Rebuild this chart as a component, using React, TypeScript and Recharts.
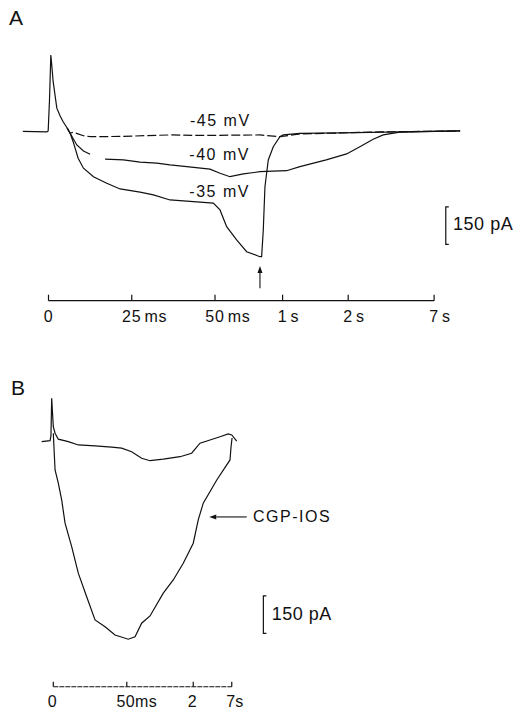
import React from "react";
import {
  LineChart,
  Line,
  XAxis,
  YAxis,
  ReferenceLine,
  ReferenceDot,
} from "recharts";

const INK = "#111";
const FONT = '"Liberation Sans", Arial, Helvetica, sans-serif';

// Panel A: x in units of the broken time axis (0 .. 7 s), y in pA
const ticksA = [0, 25, 50, 70.3, 90, 115.8];
const tickNumA = ["0", "25", "50", "1", "2", "7"];
const tickUnitA = ["", "ms", "ms", "s", "s", "s"];

const spikeA = [
  [-7.7, 0], [-0.5, -2], [-0.1, 2], [0.3, 126], [0.7, 306], [0.9, 278],
  [1.4, 199], [2.5, 93], [3.5, 62], [4.4, 39], [5.6, 14],
];

const minus45 = [
  [5.6, 14], [6.5, -7], [7.4, -3], [10.5, -17], [12.5, -21], [21.5, -20],
  [36.5, -14], [45.5, -16], [63.5, -14], [69.5, -21], [75.5, -10],
  [87.5, -6], [99.5, -2], [111.5, 0], [123.6, 2],
];

const minus40 = [
  [5.6, 14], [6.5, -7], [8.5, -54], [10.5, -78], [12.5, -91], [14.5, null],
  [17, -111], [22.5, -114], [27.5, -123], [32.5, -127], [36.5, -134],
  [41.5, -141], [48.5, -151], [51.5, -167], [54.5, -181], [58.5, -170],
  [63.5, -161], [71.5, -157], [75.5, -141], [83.4, -114], [89.5, -90],
  [93.5, -61], [97.5, -31], [100.5, -14], [105.5, -3], [123.6, 2],
];

const minus35 = [
  [6.5, -7], [7.4, -41], [8.9, -107], [10.5, -147], [13.5, -181],
  [17.5, -207], [21.5, -230], [27.5, -243], [31.5, -254], [36.5, -274],
  [43.5, -281], [49.5, -287], [51.5, -314], [53.5, -381], [56.5, -434],
  [59.5, -481], [63.5, -501], [64, -501], [64.5, -394], [65, -221],
  [66, -114], [67.5, -61], [69.5, -21], [70.5, -14], [75.5, -8],
  [87.5, -6], [105.5, -2], [123.6, 2],
];

// Panel B
const ticksB = [0, 50, 95.2, 121.4];
const tickNumB = ["0", "50", "2", "7"];
const tickUnitB = ["", "ms", "", "s"];

const controlB = [
  [-7.9, 0], [-2.2, 4], [-1.6, 23], [-1.1, 174], [0, 60], [1.2, 34],
  [3.4, 10], [10.2, 0], [17, -13], [28.4, -17], [39.7, -22], [46.5, -26],
  [53.3, -40], [60.1, -66], [65.8, -76], [74.8, -70], [86.2, -60],
  [94.1, -46], [99.8, -6], [106.6, 7], [113.4, 20], [119, 31],
  [121.4, 27], [124.8, 2],
];

const cgpB = [
  [0, 34], [1.2, -113], [3.4, -166], [5.7, -233], [8, -326], [12.5, -420],
  [17, -526], [22.7, -620], [28.4, -713], [35.2, -740], [42, -773],
  [51, -790], [55.6, -780], [60.1, -726], [65.8, -697], [74.8, -606],
  [81.6, -553], [88.4, -486], [95.2, -406], [98.6, -313], [102, -246],
  [111.2, -153], [120.2, -73], [120.9, -21], [121.6, 15],
];

const pts = (arr: any[]) => arr.map(([x, y]) => ({ x, y }));

function makeTick(ticks: number[], nums: string[], units: string[], o: any) {
  return (props: any) => {
    const { x, y, payload, index } = props;
    let i = ticks.indexOf(payload.value);
    if (i < 0) i = index;
    const num = nums[i] ?? "";
    const unit = units[i] ?? "";
    return (
      <g>
        <line x1={x} y1={y} x2={x} y2={y - o.tick} stroke={INK} strokeWidth={1.2} />
        <text
          x={x - num.length * (o.size * 0.278 + o.ls / 2) - o.shift}
          y={y + o.base}
          fontSize={o.size}
          fontFamily={FONT}
          fill={INK}
          letterSpacing={o.ls}
        >
          <tspan>{num}</tspan>
          {unit ? <tspan dx={o.gap}>{unit}</tspan> : null}
        </text>
      </g>
    );
  };
}

const label = (text: string, size: number, spacing = 0) => (p: any) => (
  <text
    x={p.cx}
    y={p.cy + size * 0.36}
    fontSize={size}
    fontFamily={FONT}
    fill={INK}
    letterSpacing={spacing}
  >
    {text}
  </text>
);

const Bracket = (p: any) => (
  <path
    d={`M${p.x1 + 3},${p.y1} H${p.x1} V${p.y2} H${p.x1 + 3}`}
    fill="none"
    stroke={INK}
    strokeWidth={1.2}
  />
);

const Arrow = (p: any) => {
  const dx = p.x2 - p.x1;
  const dy = p.y2 - p.y1;
  const len = Math.sqrt(dx * dx + dy * dy) || 1;
  const ux = dx / len;
  const uy = dy / len;
  const bx = p.x2 - ux * 7;
  const by = p.y2 - uy * 7;
  return (
    <g>
      <line x1={p.x1} y1={p.y1} x2={bx} y2={by} stroke={INK} strokeWidth={1.1} />
      <polygon
        points={`${p.x2},${p.y2} ${bx - uy * 2.5},${by + ux * 2.5} ${bx + uy * 2.5},${by - ux * 2.5}`}
        fill={INK}
      />
    </g>
  );
};

const lineProps = {
  type: "linear" as const,
  dataKey: "y",
  dot: false,
  stroke: INK,
  strokeWidth: 1.2,
  isAnimationActive: false,
};

function PanelA() {
  return (
    <LineChart
      width={515}
      height={340}
      margin={{ top: 46.45, right: 53.58, bottom: 9.3, left: 21.86 }}
    >
      <XAxis
        dataKey="x"
        type="number"
        domain={[-8, 124]}
        allowDataOverflow
        ticks={ticksA}
        interval={0}
        height={30}
        axisLine={false}
        tickLine={false}
        tickSize={0}
        tickMargin={0}
        tick={makeTick(ticksA, tickNumA, tickUnitA, { tick: 6, base: 21, size: 16, gap: 3, ls: 0.8, shift: 0 })}
      />
      <YAxis hide type="number" domain={[-677, 340]} allowDataOverflow />
      <ReferenceLine
        segment={[{ x: 0, y: -677 }, { x: 115.8, y: -677 }]}
        stroke={INK}
        strokeWidth={1.2}
        ifOverflow="visible"
      />
      <Line {...lineProps} data={pts(minus45)} strokeDasharray="9 3" />
      <Line {...lineProps} data={pts(minus40)} />
      <Line {...lineProps} data={pts([...spikeA, ...minus35])} />
      <ReferenceDot x={42.5} y={43} r={0} ifOverflow="visible" shape={label("-45 mV", 16, 1.5)} />
      <ReferenceDot x={42.3} y={-91} r={0} ifOverflow="visible" shape={label("-40 mV", 16, 1.5)} />
      <ReferenceDot x={42.3} y={-239} r={0} ifOverflow="visible" shape={label("-35 mV", 16, 1.5)} />
      <ReferenceLine
        segment={[{ x: 119.3, y: -302 }, { x: 119.3, y: -452 }]}
        ifOverflow="visible"
        shape={Bracket}
      />
      <ReferenceDot x={121.5} y={-369} r={0} ifOverflow="visible" shape={label("150 pA", 18, 0.5)} />
      <ReferenceLine
        segment={[{ x: 63.5, y: -627 }, { x: 63.5, y: -538 }]}
        ifOverflow="visible"
        shape={Arrow}
      />
    </LineChart>
  );
}

function PanelB() {
  return (
    <LineChart
      width={515}
      height={375}
      margin={{ top: 36.7, right: 275.01, bottom: 8.3, left: 40.07 }}
    >
      <XAxis
        dataKey="x"
        type="number"
        domain={[-9, 127]}
        allowDataOverflow
        ticks={ticksB}
        interval={0}
        height={20}
        axisLine={false}
        tickLine={false}
        tickSize={0}
        tickMargin={0}
        tick={makeTick(ticksB, tickNumB, tickUnitB, { tick: 5, base: 20, size: 16, gap: 0, ls: 0.3, shift: 1 })}
      />
      <YAxis hide type="number" domain={[-980, 260]} allowDataOverflow />
      <ReferenceLine
        segment={[{ x: 0, y: -980 }, { x: 121.4, y: -980 }]}
        stroke={INK}
        strokeWidth={1.1}
        strokeDasharray="5 1"
        ifOverflow="visible"
      />
      <Line {...lineProps} data={pts(controlB)} />
      <Line {...lineProps} data={pts(cgpB)} />
      <ReferenceLine
        segment={[{ x: 131.6, y: -301 }, { x: 106.1, y: -301 }]}
        ifOverflow="visible"
        shape={Arrow}
      />
      <ReferenceDot x={135.9} y={-300} r={0} ifOverflow="visible" shape={label("CGP-IOS", 16, 1.5)} />
      <ReferenceLine
        segment={[{ x: 142.9, y: -617 }, { x: 142.9, y: -767 }]}
        ifOverflow="visible"
        shape={Bracket}
      />
      <ReferenceDot x={148.6} y={-688} r={0} ifOverflow="visible" shape={label("150 pA", 18, 0.5)} />
    </LineChart>
  );
}

export default function App() {
  return (
    <div
      style={{
        position: "absolute",
        left: 0,
        top: 0,
        width: 515,
        height: 715,
        background: "#fff",
        overflow: "hidden",
      }}
    >
      <div style={{ position: "absolute", left: 0, top: 0 }}>
        <PanelA />
      </div>
      <div style={{ position: "absolute", left: 0, top: 340 }}>
        <PanelB />
      </div>
      <svg
        width={515}
        height={715}
        style={{ position: "absolute", left: 0, top: 0, pointerEvents: "none" }}
      >
        <text x={9} y={25} fontSize={21} fontFamily={FONT} fill={INK}>
          A
        </text>
        <text x={11} y={395} fontSize={21} fontFamily={FONT} fill={INK}>
          B
        </text>
      </svg>
    </div>
  );
}
